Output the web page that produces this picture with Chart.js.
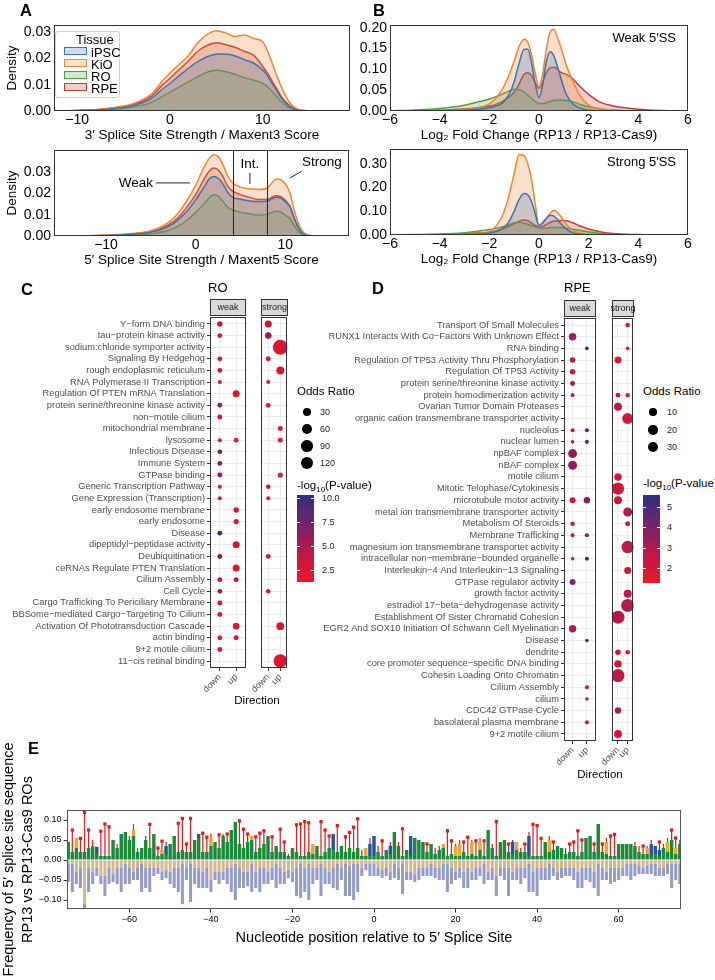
<!DOCTYPE html>
<html>
<head>
<meta charset="utf-8">
<title>Splice site strength, GO enrichment and 5' splice site logo</title>
<script src="https://cdn.jsdelivr.net/npm/chart.js@4.4.1/dist/chart.umd.min.js"></script>
<style>
  html, body { margin: 0; padding: 0; background: #fff; }
  #page { position: relative; width: 715px; height: 980px; overflow: hidden;
          font-family: "Liberation Sans", Arial, Helvetica, sans-serif; color: #000; }
  #page canvas { position: absolute; }
  .t { position: absolute; white-space: nowrap; line-height: 1; }
  .letter { font-size: 16.5px; font-weight: bold; }
  .facetTitle { font-size: 13px; }
  .dir { font-size: 11.5px; transform: translateX(-50%); }
  .leg { font-size: 11.5px; }
  .legLab { font-size: 9px; color: #1a1a1a; }
  .dot { position: absolute; border-radius: 50%; background: #000; }
  .cbar { position: absolute; }
  .ctick { position: absolute; height: 1px; width: 3px; background: #fff; }
  #tissue { position: absolute; left: 55px; top: 31px; width: 63px; height: 65px;
            border: 1px solid #cfcfcf; border-radius: 3px; background: rgba(255,255,255,0.8); }
  .sw { position: absolute; width: 21px; height: 6px; border: 1.5px solid; }
</style>
</head>
<body>
<div id="page">
  <canvas id="a3ss" width="360" height="145" style="left:0;top:0"></canvas>
  <canvas id="a5ss" width="360" height="145" style="left:0;top:125px"></canvas>
  <canvas id="bWeak" width="360" height="145" style="left:355px;top:0"></canvas>
  <canvas id="bStrong" width="360" height="145" style="left:355px;top:124px"></canvas>
  <canvas id="roWeak" width="250" height="410" style="left:0;top:290px"></canvas>
  <canvas id="roStrong" width="45" height="410" style="left:250px;top:290px"></canvas>
  <canvas id="rpeWeak" width="280" height="490" style="left:320px;top:290px"></canvas>
  <canvas id="rpeStrong" width="40" height="490" style="left:600px;top:290px"></canvas>
  <canvas id="logo" width="715" height="240" style="left:0;top:740px"></canvas>

  <div class="t letter" style="left:20px;top:2px">A</div>
  <div class="t letter" style="left:373px;top:2px">B</div>
  <div class="t letter" style="left:21px;top:281px">C</div>
  <div class="t letter" style="left:372px;top:280px">D</div>
  <div class="t letter" style="left:28px;top:740px">E</div>

  <div id="tissue">
    <div class="t" style="left:20px;top:1px;font-size:13px">Tissue</div>
    <div class="sw" style="left:8px;top:15px;border-color:#3b75af;background:rgba(59,117,175,0.25)"></div>
    <div class="t" style="left:35px;top:14px;font-size:13px">iPSC</div>
    <div class="sw" style="left:8px;top:27px;border-color:#ef8636;background:rgba(239,134,54,0.25)"></div>
    <div class="t" style="left:35px;top:26px;font-size:13px">KiO</div>
    <div class="sw" style="left:8px;top:39px;border-color:#519e3e;background:rgba(81,158,62,0.25)"></div>
    <div class="t" style="left:35px;top:38px;font-size:13px">RO</div>
    <div class="sw" style="left:8px;top:51px;border-color:#c53a32;background:rgba(197,58,50,0.25)"></div>
    <div class="t" style="left:35px;top:50px;font-size:13px">RPE</div>
  </div>

  <div class="t" style="right:39px;top:30.5px;font-size:13px">Weak 5′SS</div>
  <div class="t" style="right:39px;top:154.5px;font-size:13px">Strong 5′SS</div>

  <div class="t facetTitle" style="left:208px;top:280.5px">RO</div>
  <div class="t facetTitle" style="left:564px;top:280.5px">RPE</div>
  <div class="t dir" style="left:257px;top:695px">Direction</div>
  <div class="t dir" style="left:600px;top:769px">Direction</div>

  <div class="t leg" style="left:297px;top:386px">Odds Ratio</div>
  <div class="t leg" style="left:297px;top:480px">-log<sub style="font-size:8px">10</sub>(P-value)</div>
  <div class="t leg" style="left:643px;top:386px">Odds Ratio</div>
  <div class="t leg" style="left:643px;top:478px">-log<sub style="font-size:8px">10</sub>(P-value)</div>
</div>

<script>
// ---------- panel A / B: density curves ----------
const tissues = ['iPSC', 'KiO', 'RO', 'RPE'];
const tissueColors = ['#3b75af', '#ef8636', '#519e3e', '#c53a32'];
const tissueFills = ['rgba(59,117,175,0.25)', 'rgba(239,134,54,0.25)', 'rgba(81,158,62,0.25)', 'rgba(197,58,50,0.25)'];

// 3' splice site strength (Maxent3)
const a3X     = [-12.5, -10, -8, -6, -4, -2, -1, 0, 1, 2, 3, 4, 5, 6, 7, 8, 9, 10, 10.5, 11, 11.5, 12, 12.5, 13, 13.5, 14, 15, 19.4];
const a3iPSC  = [0, .0002, .0004, .0009, .002, .0048, .0078, .0105, .0135, .0163, .0188, .0207, .0216, .0217, .021, .0196, .0183, .0156, .0135, .0105, .0078, .005, .003, .0015, .0006, .0002, 0, 0];
const a3KiO   = [0, .0002, .0005, .0013, .0028, .0065, .0107, .0145, .0178, .0212, .026, .0292, .0306, .0298, .0284, .029, .0277, .0264, .023, .0185, .0135, .0092, .0055, .0028, .0012, .0005, .0001, 0];
const a3RO    = [0, .0001, .0003, .0007, .0015, .0033, .0052, .0072, .0092, .0111, .0131, .0148, .0155, .015, .014, .0127, .0118, .0105, .0093, .0075, .0055, .0035, .002, .001, .0004, .0001, 0, 0];
const a3RPE   = [0, .0002, .0005, .0012, .0025, .0057, .0093, .0125, .0158, .0192, .0228, .025, .026, .0253, .0243, .0228, .0213, .017, .0145, .0115, .0085, .0055, .0033, .0018, .0008, .0003, .0001, 0];

// 5' splice site strength (Maxent5)
const a5X     = [-15.8, -12, -10, -8, -6, -5, -4, -3, -2, -1, 0, 1, 1.5, 2, 2.5, 3, 3.5, 4, 5, 6, 7, 8, 8.5, 9, 9.5, 10, 10.5, 11, 11.5, 12, 12.5, 13, 17.1];
const a5iPSC  = [0, .0001, .0002, .0006, .0012, .0018, .0028, .0045, .0075, .0115, .017, .0235, .0268, .028, .0272, .0248, .021, .0185, .0173, .0165, .0162, .0165, .0175, .0183, .0178, .016, .0138, .008, .0035, .001, .0003, .0001, 0];
const a5KiO   = [0, .0001, .0003, .0008, .0016, .0025, .004, .0065, .0105, .0165, .024, .033, .0365, .0383, .0375, .034, .029, .0255, .023, .0222, .0219, .0226, .025, .0268, .0265, .0245, .0205, .012, .0055, .0018, .0005, .0001, 0];
const a5RO    = [0, .0001, .0001, .0003, .0007, .001, .0016, .0027, .0045, .0073, .011, .0155, .018, .0194, .0188, .0165, .0138, .0125, .0112, .0105, .0098, .0103, .0112, .0117, .0113, .0098, .0082, .0048, .002, .0006, .0002, 0, 0];
const a5RPE   = [0, .0001, .0003, .0007, .0014, .0021, .0033, .0053, .0085, .0135, .0195, .0272, .0305, .032, .0312, .0283, .024, .0215, .0195, .0182, .0172, .0172, .0183, .019, .0185, .0168, .0142, .0085, .0038, .0012, .0003, .0001, 0];
const a5Cutoffs = [4.2, 7.9];
const a5Notes = [
  {text: 'Weak',   at: [-6.66, 0.025],  line: [[-4.43, 0.025], [-0.64, 0.025]]},
  {text: 'Int.',   at: [6.05, 0.0339],  line: [[6.05, 0.0297], [6.05, 0.0245]]},
  {text: 'Strong', at: [14.07, 0.0349], line: [[10.51, 0.0273], [11.85, 0.0306]]}
];

// log2 fold change RP13 / RP13-Cas9
const bX         = [-6, -5, -4, -3, -2.5, -2, -1.75, -1.5, -1.25, -1, -0.8, -0.6, -0.45, -0.3, -0.15, 0, 0.15, 0.3, 0.45, 0.6, 0.75, 0.9, 1.1, 1.35, 1.6, 2, 2.5, 3, 4, 5, 6];
const bWeakiPSC  = [0, 0, .0005, .002, .004, .008, .012, .018, .035, .07, .115, .148, .148, .115, .065, .032, .065, .12, .142, .132, .105, .075, .04, .018, .008, .002, .0005, 0, 0, 0, 0];
const bWeakKiO   = [0, .0003, .001, .003, .007, .017, .03, .05, .08, .12, .155, .172, .165, .135, .09, .058, .09, .15, .19, .196, .175, .15, .11, .074, .042, .014, .005, .002, .0005, 0, 0];
const bWeakRO    = [.0005, .0025, .006, .014, .021, .029, .034, .04, .047, .052, .051, .046, .038, .03, .023, .018, .018, .02, .023, .025, .026, .026, .025, .022, .017, .01, .005, .002, 0, 0, 0];
const bWeakRPE   = [0, .0005, .002, .005, .008, .012, .016, .022, .032, .045, .065, .088, .092, .085, .068, .054, .07, .092, .104, .105, .1, .092, .088, .078, .062, .04, .02, .012, .004, .001, 0];
const bStrongiPSC = [0, 0, .0005, .002, .004, .008, .014, .025, .05, .1, .15, .175, .17, .14, .09, .038, .05, .07, .083, .08, .065, .045, .025, .01, .004, .001, 0, 0, 0, 0, 0];
const bStrongKiO  = [0, .0002, .001, .003, .006, .015, .035, .075, .15, .26, .34, .335, .3, .235, .13, .042, .055, .072, .092, .103, .095, .075, .045, .021, .009, .004, .001, 0, 0, 0, 0];
const bStrongRO   = [.0005, .002, .004, .01, .016, .023, .028, .034, .042, .052, .054, .05, .045, .04, .035, .03, .028, .029, .031, .032, .032, .031, .029, .024, .02, .013, .006, .003, .0005, 0, 0];
const bStrongRPE  = [0, .0005, .002, .005, .008, .012, .017, .024, .035, .048, .058, .063, .06, .05, .04, .032, .036, .045, .054, .058, .06, .061, .06, .052, .04, .025, .013, .006, .002, 0, 0];

const a3XTicks = [-10, 0, 10];
const a5XTicks = [-10, 0, 10];
const aYTicks = [0, 0.01, 0.02, 0.03];
const bXTicks = [-6, -4, -2, 0, 2, 4, 6];
const bWeakYTicks = [0, 0.05, 0.10, 0.15, 0.20];
const bStrongYTicks = [0, 0.10, 0.20, 0.30];

// ---------- panel C: RO enrichment ----------
const directions = ['down', 'up'];
const roTerms = [
  'Y−form DNA binding', 'tau−protein kinase activity', 'sodium:chloride symporter activity',
  'Signaling By Hedgehog', 'rough endoplasmic reticulum', 'RNA Polymerase II Transcription',
  'Regulation Of PTEN mRNA Translation', 'protein serine/threonine kinase activity', 'non−motile cilium',
  'mitochondrial membrane', 'lysosome', 'Infectious Disease', 'Immune System', 'GTPase binding',
  'Generic Transcription Pathway', 'Gene Expression (Transcription)', 'early endosome membrane',
  'early endosome', 'Disease', 'dipeptidyl−peptidase activity', 'Deubiquitination',
  'ceRNAs Regulate PTEN Translation', 'Cilium Assembly', 'Cell Cycle',
  'Cargo Trafficking To Periciliary Membrane', 'BBSome−mediated Cargo−Targeting To Cilium',
  'Activation Of Phototransduction Cascade', 'actin binding', '9+2 motile cilium', '11−cis retinal binding'
];
const roWeakDownOR = [7, 4, null, 4, 4, 3,  null, 4.5, 4.5, null, 3, 4,  4, 4.5, 3, 3, null, null,
                      4, null, 4.5, null, 4.5, 4,  4.5, 4.5, null, 4, 4.5, null];
const roWeakDownP  = [3.2, 3, null, 3, 3, 2.8,  null, 6, 3.2, null, 3, 7.5,  7, 6, 3.2, 3.2, null, null,
                      10.2, null, 7, null, 3.2, 6,  3, 3, null, 3, 3, null];
const roWeakUpOR   = [null, null, null, null, null, null,  18, null, null, null, 4, null,  null, null, null, null, 6.5, 5.5,
                      null, 18, null, 18, 4.5, null,  null, null, 14, 4.5, null, null];
const roWeakUpP    = [null, null, null, null, null, null,  2.2, null, null, null, 2.5, null,  null, null, null, null, 2.6, 2.6,
                      null, 2.6, null, 2.6, 2.6, null,  null, null, 2.4, 2.8, null, null];
const roStrongDownOR = [18, 14, null, 4.5, null, 3,  null, 4, null, null, null, null,  null, null, 3.5, 3, null, null,
                        null, null, 4, null, null, 3.5,  null, null, null, null, null, null];
const roStrongDownP  = [3.5, 5.5, null, 3.8, null, 3,  null, 3, null, null, null, null,  null, null, 3, 3, null, null,
                        null, null, 3.2, null, null, 3,  null, null, null, null, null, null];
const roStrongUpOR   = [null, null, 200, null, 28, null,  null, null, null, 4.5, 4.5, null,  null, 5, null, null, null, null,
                        null, null, null, null, null, null,  null, null, 28, null, null, 150];
const roStrongUpP    = [null, null, 2.6, null, 2.6, null,  null, null, null, 2.8, 2.8, null,  null, 2.8, null, null, null, null,
                        null, null, null, null, null, null,  null, null, 2.4, null, null, 2.4];
const roLegendOR = [30, 60, 90, 120];
const roPTicks = [2.5, 5.0, 7.5, 10.0];
const roPTickLabels = ['2.5', '5.0', '7.5', '10.0'];
const roPRange = [1.25, 10.4];

// ---------- panel D: RPE enrichment ----------
const rpeTerms = [
  'Transport Of Small Molecules', 'RUNX1 Interacts With Co−Factors With Unknown Effect', 'RNA binding',
  'Regulation Of TP53 Activity Thru Phosphorylation', 'Regulation Of TP53 Activity',
  'protein serine/threonine kinase activity', 'protein homodimerization activity', 'Ovarian Tumor Domain Proteases',
  'organic cation transmembrane transporter activity', 'nucleolus', 'nuclear lumen', 'npBAF complex', 'nBAF complex',
  'motile cilium', 'Mitotic Telophase/Cytokinesis', 'microtubule motor activity',
  'metal ion transmembrane transporter activity', 'Metabolism Of Steroids', 'Membrane Trafficking',
  'magnesium ion transmembrane transporter activity', 'intracellular non−membrane−bounded organelle',
  'Interleukin−4 And Interleukin−13 Signaling', 'GTPase regulator activity', 'growth factor activity',
  'estradiol 17−beta−dehydrogenase activity', 'Establishment Of Sister Chromatid Cohesion',
  'EGR2 And SOX10 Initiation Of Schwann Cell Myelination', 'Disease', 'dendrite',
  'core promoter sequence−specific DNA binding', 'Cohesin Loading Onto Chromatin', 'Cilium Assembly', 'cilium',
  'CDC42 GTPase Cycle', 'basolateral plasma membrane', '9+2 motile cilium'
];
const rpeWeakDownOR = [null, 9.7, null, 3.9, 3.9, 3,  2.1, null, null, 2.1, 2, 17,  17, null, null, 5, null, 2.4,
                       2.1, null, 2, null, 5, null,  null, null, 9.7, null, null, null,  null, null, null, null, null, null];
const rpeWeakDownP  = [null, 3.4, null, 2.4, 2.4, 3.6,  2.4, null, null, 2.4, 2.4, 3.5,  3.5, null, null, 2.2, null, 2.2,
                       2.3, null, 2.1, null, 3.7, null,  null, null, 3.1, null, null, null,  null, null, null, null, null, null];
const rpeWeakUpOR   = [null, null, 2, null, null, null,  null, null, null, 2.1, 2.1, null,  null, null, null, 6.4, null, null,
                       2.1, null, 2.1, null, null, null,  null, null, null, 2, null, null,  null, 2.1, 2, null, 2.1, null];
const rpeWeakUpP    = [null, null, 5.6, null, null, null,  null, null, null, 4.3, 4.3, null,  null, null, null, 3.9, null, null,
                       4, null, 5.4, null, null, null,  null, null, null, 5, null, null,  null, 2.1, 2.1, null, 2.1, null];
const rpeStrongDownOR = [null, null, null, 8, null, null,  3, 12, null, null, null, null,  null, 9.7, 42, 12, null, null,
                         null, null, null, null, null, null,  null, 48, null, null, 3.9, 9.7,  48, null, null, 6.4, null, 12];
const rpeStrongDownP  = [null, null, null, 2, null, null,  2.1, 2.8, null, null, null, null,  null, 2, 2.1, 2.4, null, null,
                         null, null, null, null, null, null,  null, 2.8, null, null, 2.2, 2.1,  2.7, null, null, 3, null, 2];
const rpeStrongUpOR   = [2.4, null, 2, null, null, null,  2.4, null, 30, null, null, null,  null, null, null, null, 17, 3,
                         null, 42, null, 8, null, 12,  48, null, null, null, 2.4, null,  null, null, null, null, null, null];
const rpeStrongUpP    = [2, null, 2, null, null, null,  2, null, 2.1, null, null, null,  null, null, null, null, 2.9, 2,
                         null, 2.6, null, 2.3, null, 2.5,  3, null, null, null, 2, null,  null, null, null, null, null, null];
const rpeLegendOR = [10, 20, 30];
const rpePTicks = [2, 3, 4, 5];
const rpePTickLabels = ['2', '3', '4', '5'];
const rpePRange = [1.3, 5.6];

// ---------- panel E: 5' splice site logo ----------
const ntPositions = Array.from({length: 151}, (_, i) => i - 75);
const posA = [
  .045, .02, .03, .02, .02, .03, .035, .015, .01, .01,
  .01, .05, .03, .065, .07, .05, .06, .02, .03, .05,
  .03, .065, .01, .015, .015, .04, .06, .02, .025, .02,
  .02, .05, .055, .02, .02, .035, .045, .03, .06, .045,
  .075, .095, .04, .03, .045, .05, .02, .03, .04, .06,
  .02, .035, .02, .02, .01, .03, .02, .01, .01, .02,
  .015, .035, .01, .02, .03, .025, .02, .035, .02, .03,
  .02, .03, .01, .01, .01, .01, .02, .01, .025, .015,
  .07, .035, .01, .025, .01, .055, .05, .045, .02, .04,
  .015, .025, .03, .01, .015, .01, .01, .02, .01, .015,
  .01, .025, .01, .075, .03, .01, .045, .05, .02, .015,
  .025, .02, .02, .01, .01, .01, .01, .045, .02, .025,
  .035, .03, .015, .02, .02, .01, .02, .055, .06, .02,
  .09, .02, .015, .01, .01, .04, .04, .04, .04, .035,
  .02, .015, .015, .01, .015, .01, .03, .02, .05, .015, .04
];
const posT = [
  0, .055, 0, .034, .099, .045, .015, 0, .062, .08,
  .073, 0, .01, 0, 0, .01, .015, .01, 0, .01,
  .059, 0, .02, .02, .01, 0, 0, .072, .079, .02,
  .084, 0, 0, .047, .037, .011, 0, .033, .005, .02,
  0, 0, .058, .047, .02, 0, .038, .037, .033, 0,
  .038, 0, .057, .025, .005, 0, .068, .08, .086, .073,
  0, 0, .086, .055, .03, 0, .066, 0, .038, .039,
  .062, .073, .015, 0, .015, 0, .015, .038, 0, .01,
  0, .01, .068, 0, 0, 0, 0, 0, .02, 0,
  .015, .01, 0, .063, .033, .005, .01, .025, .047, .005,
  .038, .01, .038, 0, .01, .086, 0, 0, .02, .005,
  0, .01, .02, .01, .079, .076, .044, 0, .01, .02,
  0, 0, .015, .02, .025, .063, .03, 0, 0, .02,
  0, .02, .01, .05, .054, 0, 0, 0, 0, .01,
  .015, .02, .005, .01, 0, .02, .01, .01, .025, .025, .01
];
const posG = {'-73': .025, '-59': .015, '-52': .012, '-40': .02, '-30': .01, '-15': .025, '-2': .02, '17': .01,
              '20': .025, '21': .03, '24': .03, '26': .02, '35': .02, '43': .03, '57': .03, '67': .015, '72': .025, '74': .015};
const posC = {'-68': .018, '-51': .02, '-43': .01, '-10': .04, '-1': .03, '0': .05, '4': .02, '9': .05,
              '34': .03, '38': .05, '68': .03, '69': .02, '70': .015};
const negG = [
  -.01, -.01, -.03, -.02, -.11, -.02, -.03, -.02, -.04, -.04,
  -.02, -.035, -.02, -.02, -.01, -.02, -.03, -.02, -.01, -.02,
  -.02, -.02, -.02, -.03, -.025, -.03, -.02, -.02, -.01, -.02,
  -.01, -.02, -.02, -.03, -.02, -.05, -.03, -.03, -.03, -.02,
  -.02, -.01, -.02, -.03, -.03, -.01, -.03, -.02, -.02, -.03,
  -.02, -.01, -.02, -.03, -.025, -.03, -.02, -.01, -.02, -.01,
  -.02, -.02, -.01, -.02, -.03, -.02, -.01, -.02, -.01, -.015,
  -.01, -.01, -.02, -.01, -.01, -.01, -.02, -.025, -.02, -.03,
  -.01, -.02, -.01, -.03, -.03, -.035, -.02, -.02, -.02, -.01,
  -.02, -.02, -.01, -.01, -.02, -.03, -.02, -.03, -.02, -.03,
  -.02, -.02, -.01, -.03, -.02, -.04, -.02, -.02, -.02, -.03,
  -.02, -.02, -.02, -.01, -.03, -.02, -.02, -.02, -.01, -.02,
  -.03, -.02, -.02, -.02, -.02, -.03, -.02, -.02, -.02, -.03,
  -.01, -.02, -.03, -.02, -.02, -.02, -.02, -.01, -.01, -.01,
  -.015, -.02, -.015, -.01, -.01, -.02, -.02, -.01, -.01, -.01, -.01
];
const negC = [
  -.045, -.07, -.03, -.05, -.02, -.06, -.03, -.02, -.02, -.05,
  -.04, -.02, -.04, -.06, -.05, -.04, -.02, -.03, -.07, -.05,
  -.06, -.02, -.015, -.02, -.02, -.03, -.05, -.06, -.1, -.03,
  -.095, -.04, -.05, -.04, -.05, -.03, -.02, -.03, -.02, -.04,
  -.06, -.09, -.05, -.04, -.035, -.07, -.04, -.06, -.04, -.03,
  -.03, -.06, -.04, -.03, -.02, -.025, -.07, -.085, -.06, -.09,
  -.04, -.03, -.08, -.04, -.03, -.05, -.065, -.03, -.08, -.075,
  -.09, -.07, -.02, -.015, -.03, -.03, -.02, -.02, -.02, -.02,
  -.035, -.03, -.075, -.02, -.02, -.02, -.03, -.02, -.02, -.03,
  -.025, -.03, -.04, -.07, -.04, -.02, -.025, -.04, -.05, -.02,
  -.03, -.02, -.05, -.02, -.03, -.05, -.02, -.03, -.07, -.02,
  -.03, -.04, -.025, -.07, -.05, -.07, -.03, -.03, -.04, -.02,
  -.02, -.025, -.02, -.02, -.03, -.04, -.05, -.03, -.035, -.04,
  -.08, -.03, -.02, -.04, -.035, -.03, -.02, -.03, -.04, -.03,
  -.02, -.015, -.02, -.025, -.03, -.02, -.02, -.025, -.06, -.04, -.05
];
const logoXTicks = [-60, -40, -20, 0, 20, 40, 60];
const logoYTicks = [-0.10, -0.05, 0, 0.05, 0.10];

// ---------- shared helpers ----------
const FONT = "'Liberation Sans', Arial, Helvetica, sans-serif";
Chart.defaults.font.family = FONT;
Chart.defaults.color = '#000';
Chart.defaults.animation = false;
Chart.defaults.responsive = false;
Chart.defaults.events = [];
Chart.defaults.plugins.legend.display = false;
Chart.defaults.plugins.tooltip.enabled = false;

const minus = v => String(v).replace('-', '\u2212');

const chartAreaBorder = {
  id: 'chartAreaBorder',
  afterDraw(chart, args, options) {
    const {ctx, chartArea: {left, top, width, height}} = chart;
    ctx.save();
    ctx.strokeStyle = options.borderColor;
    ctx.lineWidth = options.borderWidth;
    ctx.strokeRect(Math.round(left) + 0.5, Math.round(top) + 0.5, Math.round(width) - 1, Math.round(height) - 1);
    ctx.restore();
  }
};

const facetStrip = {
  id: 'facetStrip',
  afterDraw(chart, args, opts) {
    if (!opts.text) return;
    const {ctx, chartArea: {left, right, top}} = chart;
    const l = Math.round(left), w = Math.round(right) - l, t = Math.round(top) - 18;
    ctx.save();
    ctx.fillStyle = '#d9d9d9';
    ctx.fillRect(l, t, w, 17);
    ctx.strokeStyle = '#333';
    ctx.lineWidth = 1;
    ctx.strokeRect(l + 0.5, t + 0.5, w - 1, 16);
    ctx.fillStyle = '#1a1a1a';
    ctx.font = '9px ' + FONT;
    ctx.textAlign = 'center';
    ctx.textBaseline = 'middle';
    ctx.fillText(opts.text, l + w / 2, t + 9);
    ctx.restore();
  }
};

const ssNotes = {
  id: 'ssNotes',
  afterDatasetsDraw(chart, args, opts) {
    const {ctx, scales: {x, y}, chartArea} = chart;
    ctx.save();
    ctx.strokeStyle = '#222';
    ctx.lineWidth = 1;
    opts.cutoffs.forEach(v => {
      const px = Math.round(x.getPixelForValue(v)) + 0.5;
      ctx.beginPath(); ctx.moveTo(px, chartArea.top); ctx.lineTo(px, chartArea.bottom); ctx.stroke();
    });
    ctx.font = '13.5px ' + FONT;
    ctx.fillStyle = '#000';
    ctx.textAlign = 'center';
    ctx.textBaseline = 'middle';
    opts.notes.forEach(n => {
      ctx.fillText(n.text, x.getPixelForValue(n.at[0]), y.getPixelForValue(n.at[1]));
      ctx.beginPath();
      ctx.moveTo(x.getPixelForValue(n.line[0][0]), y.getPixelForValue(n.line[0][1]));
      ctx.lineTo(x.getPixelForValue(n.line[1][0]), y.getPixelForValue(n.line[1][1]));
      ctx.stroke();
    });
    ctx.restore();
  }
};

function densityChart(id, xs, series, o) {
  const plugins = [chartAreaBorder];
  if (o.notes) plugins.push(ssNotes);
  return new Chart(document.getElementById(id), {
    type: 'line',
    data: {
      datasets: tissues.map((t, k) => ({
        label: t,
        data: xs.map((x, i) => ({x, y: series[k][i]})),
        borderColor: tissueColors[k],
        backgroundColor: tissueFills[k],
        borderWidth: 1.5,
        pointRadius: 0,
        fill: 'origin',
        cubicInterpolationMode: 'monotone'
      }))
    },
    options: {
      layout: {padding: {left: 0, right: o.padRight, top: 25, bottom: 0}},
      plugins: {
        chartAreaBorder: {borderColor: '#333', borderWidth: 1},
        ssNotes: o.notes || {}
      },
      scales: {
        x: {
          type: 'linear', min: o.xMin, max: o.xMax,
          afterBuildTicks: s => { s.ticks = o.xTicks.map(value => ({value})); },
          afterFit: s => { s.height = 34; },
          grid: {drawOnChartArea: false, drawTicks: false},
          border: {display: false},
          ticks: {callback: v => minus(v), font: {size: 14}, color: '#000', maxRotation: 0, padding: 1},
          title: {display: true, text: o.xTitle, font: {size: 13.5}, padding: {top: 0, bottom: 1.5}}
        },
        y: {
          min: 0, max: o.yMax,
          afterBuildTicks: s => { s.ticks = o.yTicks.map(value => ({value})); },
          afterFit: s => { s.width = o.yWidth; },
          grid: {drawOnChartArea: false, drawTicks: false},
          border: {display: false},
          ticks: {callback: v => v.toFixed(2), font: {size: 14}, color: '#000', padding: 3},
          title: {display: !!o.yTitle, text: o.yTitle, font: {size: 13.5}, padding: {top: 4, bottom: 0}}
        }
      }
    },
    plugins
  });
}

densityChart('a3ss', a3X, [a3iPSC, a3KiO, a3RO, a3RPE], {
  xMin: -12.5, xMax: 19.4, xTicks: a3XTicks, yMax: 0.0328, yTicks: aYTicks, yWidth: 54, padRight: 10,
  xTitle: '3′ Splice Site Strength / Maxent3 Score', yTitle: 'Density'
});
densityChart('a5ss', a5X, [a5iPSC, a5KiO, a5RO, a5RPE], {
  xMin: -15.8, xMax: 17.1, xTicks: a5XTicks, yMax: 0.0405, yTicks: aYTicks, yWidth: 54, padRight: 11,
  xTitle: '5′ Splice Site Strength / Maxent5 Score', yTitle: 'Density',
  notes: {cutoffs: a5Cutoffs, notes: a5Notes}
});
densityChart('bWeak', bX, [bWeakiPSC, bWeakKiO, bWeakRO, bWeakRPE], {
  xMin: -6, xMax: 6, xTicks: bXTicks, yMax: 0.2065, yTicks: bWeakYTicks, yWidth: 35, padRight: 27,
  xTitle: 'Log₂ Fold Change (RP13 / RP13-Cas9)'
});
densityChart('bStrong', bX, [bStrongiPSC, bStrongKiO, bStrongRO, bStrongRPE], {
  xMin: -6, xMax: 6, xTicks: bXTicks, yMax: 0.363, yTicks: bStrongYTicks, yWidth: 35, padRight: 27,
  xTitle: 'Log₂ Fold Change (RP13 / RP13-Cas9)'
});

// ---------- dot plots ----------
const roSize = {vMin: 3, vMax: 200, rMin: 2, rMax: 7.5};
const rpeSize = {vMin: 2, vMax: 48, rMin: 1.8, rMax: 6.5};
function dotRadius(v, s) {
  return s.rMin + (s.rMax - s.rMin) * Math.sqrt(Math.max(0, (v - s.vMin) / (s.vMax - s.vMin)));
}
const pStops = [[0, [240, 22, 36]], [0.35, [186, 24, 74]], [0.68, [112, 36, 110]], [1, [44, 46, 126]]];
function pColor(p, range) {
  const t = Math.min(1, Math.max(0, (p - range[0]) / (range[1] - range[0])));
  for (let i = 1; i < pStops.length; i++) {
    if (t <= pStops[i][0]) {
      const [t0, c0] = pStops[i - 1], [t1, c1] = pStops[i];
      const f = (t - t0) / (t1 - t0);
      return 'rgb(' + c0.map((c, j) => Math.round(c + (c1[j] - c) * f)).join(',') + ')';
    }
  }
  return 'rgb(' + pStops[pStops.length - 1][1].join(',') + ')';
}

function dotFacet(id, terms, cols, o) {
  const pts = [];
  directions.forEach((dir, k) => {
    const ors = cols[k * 2], ps = cols[k * 2 + 1];
    terms.forEach((t, i) => { if (ors[i] != null) pts.push({x: k, y: i, or: ors[i], p: ps[i]}); });
  });
  return new Chart(document.getElementById(id), {
    type: 'scatter',
    data: {datasets: [{
      data: pts,
      pointRadius: c => dotRadius(c.raw.or, o.size),
      pointBackgroundColor: c => pColor(c.raw.p, o.pRange),
      pointBorderWidth: 0,
      pointBorderColor: 'rgba(0,0,0,0)'
    }]},
    options: {
      layout: {padding: {left: 0, right: o.padRight, top: o.padTop, bottom: 0}},
      plugins: {chartAreaBorder: {borderColor: '#333', borderWidth: 1}, facetStrip: {text: o.strip}},
      scales: {
        x: {
          type: 'linear', min: -0.6, max: 1.6,
          afterBuildTicks: s => { s.ticks = directions.map((d, i) => ({value: i})); },
          afterFit: s => { s.height = o.xHeight; },
          grid: {color: '#ebebeb', tickColor: '#333', tickLength: 3},
          border: {display: false},
          ticks: {callback: v => directions[v], minRotation: 45, maxRotation: 45, autoSkip: false,
                  color: '#4d4d4d', font: {size: 9}, padding: 1}
        },
        y: {
          type: 'linear', reverse: true, min: -0.6, max: terms.length - 0.4,
          afterBuildTicks: s => { s.ticks = terms.map((t, i) => ({value: i})); },
          afterFit: s => { s.width = o.yWidth; },
          grid: {color: '#ebebeb', tickColor: '#333', tickLength: 3, drawTicks: o.labels},
          border: {display: false},
          ticks: {display: o.labels, callback: v => terms[v], autoSkip: false,
                  color: '#4d4d4d', font: {size: 9.3}, padding: 2}
        }
      }
    },
    plugins: [chartAreaBorder, facetStrip]
  });
}

dotFacet('roWeak', roTerms, [roWeakDownOR, roWeakDownP, roWeakUpOR, roWeakUpP],
  {strip: 'weak', labels: true, yWidth: 210, padRight: 3, padTop: 27, xHeight: 32, size: roSize, pRange: roPRange});
dotFacet('roStrong', roTerms, [roStrongDownOR, roStrongDownP, roStrongUpOR, roStrongUpP],
  {strip: 'strong', labels: false, yWidth: 3, padRight: 4, padTop: 27, xHeight: 32, size: roSize, pRange: roPRange});
dotFacet('rpeWeak', rpeTerms, [rpeWeakDownOR, rpeWeakDownP, rpeWeakUpOR, rpeWeakUpP],
  {strip: 'weak', labels: true, yWidth: 244, padRight: 3, padTop: 28, xHeight: 39, size: rpeSize, pRange: rpePRange});
dotFacet('rpeStrong', rpeTerms, [rpeStrongDownOR, rpeStrongDownP, rpeStrongUpOR, rpeStrongUpP],
  {strip: 'strong', labels: false, yWidth: 3, padRight: 3, padTop: 28, xHeight: 39, size: rpeSize, pRange: rpePRange});

// legends for the dot plots
const page = document.getElementById('page');
function addEl(cls, text, style) {
  const d = document.createElement('div');
  d.className = cls;
  if (text != null) d.textContent = text;
  Object.assign(d.style, style);
  page.appendChild(d);
  return d;
}
function sizeLegend(cx, cys, values, scale, labelLeft) {
  values.forEach((v, i) => {
    const r = dotRadius(v, scale);
    addEl('dot', null, {left: (cx - r) + 'px', top: (cys[i] - r) + 'px', width: 2 * r + 'px', height: 2 * r + 'px'});
    addEl('t legLab', String(v), {left: labelLeft + 'px', top: (cys[i] - 4.5) + 'px'});
  });
}
function colorBar(left, top, w, h, range, ticks, labels, labelLeft) {
  const stops = [];
  for (let i = 0; i <= 20; i++) stops.push(pColor(range[0] + (range[1] - range[0]) * i / 20, range) + ' ' + (i * 5) + '%');
  addEl('cbar', null, {left: left + 'px', top: top + 'px', width: w + 'px', height: h + 'px',
    background: 'linear-gradient(to top, ' + stops.join(', ') + ')'});
  ticks.forEach((v, i) => {
    const y = top + h - (v - range[0]) / (range[1] - range[0]) * h;
    addEl('ctick', null, {left: left + 'px', top: (y - 0.5) + 'px'});
    addEl('ctick', null, {left: (left + w - 3) + 'px', top: (y - 0.5) + 'px'});
    addEl('t legLab', labels[i], {left: labelLeft + 'px', top: (y - 4.5) + 'px'});
  });
}
sizeLegend(307, [412, 429, 446, 463], roLegendOR, roSize, 320);
colorBar(297, 495, 17, 87, roPRange, roPTicks, roPTickLabels, 322);
sizeLegend(653, [412, 430, 447], rpeLegendOR, rpeSize, 667);
colorBar(643, 495, 17, 88, rpePRange, rpePTicks, rpePTickLabels, 667);

// ---------- logo ----------
const logoHeads = ntPositions
  .map((x, i) => ({x, y: posA[i] + (posG[x] || 0) + (posC[x] || 0) + posT[i], t: posT[i]}))
  .filter(p => p.t > 0.015);
const barSet = (label, values, color, pct) => ({
  label, data: ntPositions.map((x, i) => ({x, y: values(x, i)})),
  backgroundColor: color, borderWidth: 0, barPercentage: pct, categoryPercentage: 1
});

new Chart(document.getElementById('logo'), {
  type: 'bar',
  data: {datasets: [
    {type: 'scatter', label: 'T head', stack: 'heads', data: logoHeads, pointStyle: 'rect', pointRadius: 2.3,
     pointBackgroundColor: '#e41a1c', pointBorderWidth: 0},
    barSet('A', (x, i) => posA[i], '#1b8a3a', 0.85),
    barSet('G', x => posG[x] || 0, '#f2a630', 0.85),
    barSet('C', x => posC[x] || 0, '#2454a4', 0.85),
    barSet('T', (x, i) => posT[i], '#e41a1c', 0.3),
    barSet('G below', (x, i) => negG[i], '#d2b88e', 0.75),
    barSet('C below', (x, i) => negC[i], '#959dc6', 0.75)
  ]},
  options: {
    layout: {padding: {left: 0, right: 34, top: 70, bottom: 25}},
    plugins: {chartAreaBorder: {borderColor: '#555', borderWidth: 1}},
    scales: {
      x: {
        type: 'linear', min: -75.3, max: 75.3, offset: false, stacked: true,
        afterBuildTicks: s => { s.ticks = logoXTicks.map(value => ({value})); },
        afterFit: s => { s.height = 46; },
        grid: {drawOnChartArea: false, offset: false, tickLength: 3.5, tickColor: '#333'},
        border: {display: false},
        ticks: {callback: v => minus(v), font: {size: 9}, color: '#000', maxRotation: 0, padding: 2},
        title: {display: true, text: 'Nucleotide position relative to 5′ Splice Site', font: {size: 14.5}, padding: {top: 0, bottom: 8}}
      },
      y: {
        min: -0.1225, max: 0.125, stacked: true,
        afterBuildTicks: s => { s.ticks = logoYTicks.map(value => ({value})); },
        afterFit: s => { s.width = 67; },
        grid: {drawOnChartArea: false, tickLength: 3.5, tickColor: '#333'},
        border: {display: false},
        ticks: {callback: v => minus(v.toFixed(2)), font: {size: 9}, color: '#000', padding: 2},
        title: {display: true, text: ['Frequency of 5′ splice site sequence', 'RP13 vs RP13-Cas9 ROs'],
                font: {size: 14.5, lineHeight: 1.3}, padding: {top: 0, bottom: 0}}
      }
    }
  },
  plugins: [chartAreaBorder]
});
</script>
</body>
</html>
